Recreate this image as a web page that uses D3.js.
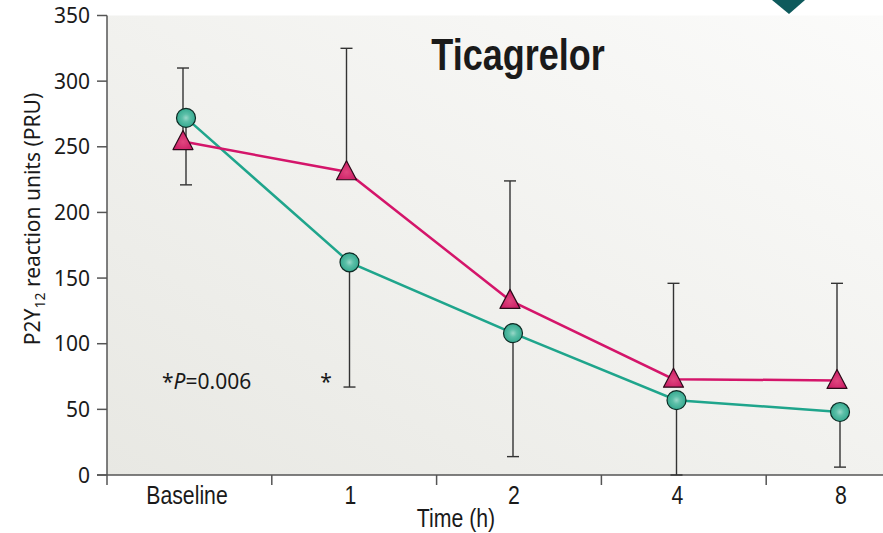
<!DOCTYPE html>
<html>
<head>
<meta charset="utf-8">
<script src="https://cdn.jsdelivr.net/npm/d3@7"></script>
<style>
  body { margin: 0; background: #fff; }
  svg { display: block; }
  .tick-y { font-family: "Noto Sans", "Open Sans", sans-serif; font-size: 21px; fill: #1a1a1a; }
  .cond { font-family: "Liberation Sans", Arial, sans-serif; fill: #1a1a1a; }
</style>
</head>
<body>
<svg id="chart" width="883" height="533"></svg>
<script>
// Time points
var categories = ["Baseline", "1", "2", "4", "8"];
// Magenta triangles (mean PRU)
var triValues = [254, 231, 133, 73, 72];
// Teal circles (mean PRU)
var circValues = [272, 162, 108, 57, 48];
// Upper error bar ends (triangle series)
var triUpper = [310, 325, 224, 146, 146];
// Lower error bar ends (circle series)
var circLower = [221, 67, 14, 0, 6];
// Y axis ticks
var yTicks = [0, 50, 100, 150, 200, 250, 300, 350];

(function(){
    var svg = d3.select("#chart");

    //Plot area
    var pLeft = 107, pRight = 883, pTop = 15.5, pBottom = 475;

    //Scales
    var y = d3.scaleLinear().domain([0, 350]).range([pBottom, pTop]);
    var xBand = d3.scaleBand().domain(categories).range([pLeft, 931]);
    var x = d3.scalePoint().domain(categories).range([187, 841]);
    //Marker positions sit a little left of the labels
    var xm = d3.scalePoint().domain(categories).range([185, 839]);

    var triColor = "#d4156a", circColor = "#1fa58c";

    //Background gradient
    var defs = svg.append("defs");
    var bg = defs.append("linearGradient").attr("id", "bg")
        .attr("x1", 0).attr("y1", 1).attr("x2", 1).attr("y2", 0);
    bg.append("stop").attr("offset", 0).attr("stop-color", "#e8e8e3");
    bg.append("stop").attr("offset", 1).attr("stop-color", "#fbfbfa");

    var cg = defs.append("radialGradient").attr("id", "circ")
        .attr("cx", 0.5).attr("cy", 0.5).attr("r", 0.5);
    cg.append("stop").attr("offset", 0).attr("stop-color", "#9ad8c9");
    cg.append("stop").attr("offset", 0.4).attr("stop-color", "#5cbfa8");
    cg.append("stop").attr("offset", 1).attr("stop-color", "#35a98f");

    var tg = defs.append("radialGradient").attr("id", "tri")
        .attr("cx", 0.5).attr("cy", 0.6).attr("r", 0.5);
    tg.append("stop").attr("offset", 0).attr("stop-color", "#e0477f");
    tg.append("stop").attr("offset", 1).attr("stop-color", "#cc1f66");

    svg.append("rect")
        .attr("x", pLeft).attr("y", pTop)
        .attr("width", pRight - pLeft).attr("height", pBottom - pTop)
        .attr("fill", "url(#bg)");

    //Teal corner decoration
    svg.append("path")
        .attr("d", "M772,0 L789,14 L805,0 Z")
        .attr("fill", "#0e5a5c");

    //Y axis
    var yAxis = svg.append("g");
    yAxis.append("line")
        .attr("x1", pLeft).attr("x2", pLeft)
        .attr("y1", pTop).attr("y2", pBottom + 10)
        .attr("stroke", "#555").attr("stroke-width", 1.5);
    yTicks.forEach(function(t){
        yAxis.append("line")
            .attr("x1", pLeft - 10).attr("x2", pLeft)
            .attr("y1", y(t)).attr("y2", y(t))
            .attr("stroke", "#555").attr("stroke-width", 1.5);
        yAxis.append("text")
            .attr("class", "tick-y")
            .attr("x", 90).attr("y", y(t) + 7.5)
            .attr("text-anchor", "end")
            .text(t);
    });

    //Y axis title
    var yt = svg.append("text")
        .attr("class", "tick-y")
        .attr("font-size", "22.5px")
        .attr("transform", "translate(40,219) rotate(-90)")
        .attr("text-anchor", "middle");
    yt.append("tspan").text("P2Y");
    yt.append("tspan").attr("font-size", "14px").attr("dy", 5).text("12");
    yt.append("tspan").attr("dy", -5).text(" reaction units (PRU)");

    //X axis
    var xAxis = svg.append("g");
    xAxis.append("line")
        .attr("x1", pLeft - 10).attr("x2", pRight)
        .attr("y1", pBottom).attr("y2", pBottom)
        .attr("stroke", "#555").attr("stroke-width", 1.5);
    categories.slice(1).forEach(function(c){
        xAxis.append("line")
            .attr("x1", xBand(c)).attr("x2", xBand(c))
            .attr("y1", pBottom).attr("y2", pBottom + 10)
            .attr("stroke", "#555").attr("stroke-width", 1.5);
    });

    //Condensed text helper: horizontally squeezed Liberation Sans
    function condText(px, py, size, str, weight, sx){
        return svg.append("text")
            .attr("class", "cond")
            .attr("font-size", size + "px")
            .attr("font-weight", weight || "normal")
            .attr("text-anchor", "middle")
            .attr("transform", "translate(" + px + "," + py + ") scale(" + (sx || 0.8) + ",1)")
            .text(str);
    }

    categories.forEach(function(c){
        condText(x(c), 504, 25, c, null, 0.85);
    });
    condText(456, 527, 25, "Time (h)", null, 0.85);

    //Title
    condText(518, 70, 45, "Ticagrelor", "bold").attr("fill", "#111");

    var triX = function(c){ return xm(c) - 2; };
    var circX = function(c){ return xm(c) + 1; };

    //Error bars
    var bars = svg.append("g").attr("stroke", "#333").attr("stroke-width", 1.4);
    categories.forEach(function(c, i){
        var tx = triX(c), cx = circX(c);
        bars.append("line").attr("x1", tx).attr("x2", tx)
            .attr("y1", y(triValues[i])).attr("y2", y(triUpper[i]));
        bars.append("line").attr("x1", tx - 6).attr("x2", tx + 6)
            .attr("y1", y(triUpper[i])).attr("y2", y(triUpper[i]));
        bars.append("line").attr("x1", cx).attr("x2", cx)
            .attr("y1", y(circValues[i])).attr("y2", y(circLower[i]));
        bars.append("line").attr("x1", cx - 6).attr("x2", cx + 6)
            .attr("y1", y(circLower[i])).attr("y2", y(circLower[i]));
    });

    //Lines
    var triLine = d3.line()
        .x(function(d, i){ return triX(categories[i]); })
        .y(function(d){ return y(d); });
    var circLine = d3.line()
        .x(function(d, i){ return circX(categories[i]); })
        .y(function(d){ return y(d); });

    svg.append("path").datum(circValues)
        .attr("d", circLine).attr("fill", "none")
        .attr("stroke", circColor).attr("stroke-width", 2.5);
    svg.append("path").datum(triValues)
        .attr("d", triLine).attr("fill", "none")
        .attr("stroke", triColor).attr("stroke-width", 2.5);

    //Markers
    svg.append("g").selectAll("path")
        .data(triValues).join("path")
        .attr("transform", function(d, i){ return "translate(" + triX(categories[i]) + "," + y(d) + ")"; })
        .attr("d", "M0,-11 L10,8 L-10,8 Z")
        .attr("fill", "url(#tri)")
        .attr("stroke", "#2a0a18").attr("stroke-width", 1.2)
        .attr("stroke-linejoin", "round");

    svg.append("g").selectAll("circle")
        .data(circValues).join("circle")
        .attr("cx", function(d, i){ return circX(categories[i]); })
        .attr("cy", function(d){ return y(d); })
        .attr("r", 9.5)
        .attr("fill", "url(#circ)")
        .attr("stroke", "#0d2a24").attr("stroke-width", 1.2);

    //Significance annotation
    var ann = svg.append("text")
        .attr("class", "tick-y")
        .attr("font-size", "22px")
        .attr("x", 162).attr("y", 389);
    ann.append("tspan").text("*");
    ann.append("tspan").attr("font-style", "italic").text("P");
    ann.append("tspan").text("=0.006");

    svg.append("text")
        .attr("class", "tick-y")
        .attr("font-size", "22px")
        .attr("x", 326).attr("y", 389)
        .attr("text-anchor", "middle")
        .text("*");
})();
</script>
</body>
</html>
